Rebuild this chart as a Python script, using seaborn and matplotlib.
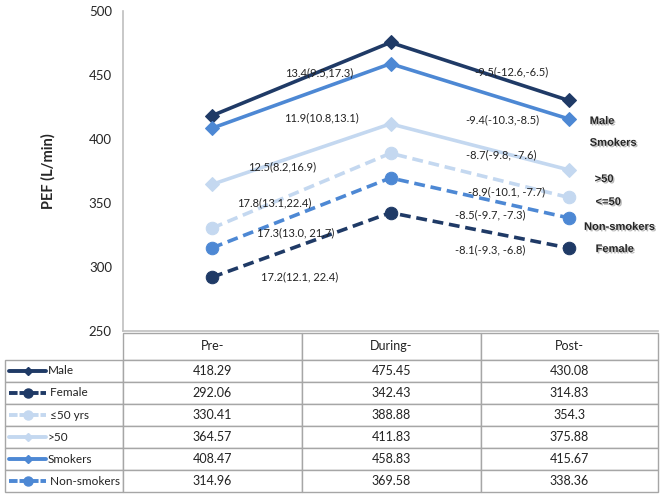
import pandas as pd
import matplotlib
matplotlib.use("Agg")
import matplotlib.pyplot as plt
import matplotlib.patheffects as pe
import seaborn as sns

# Data
phases = ["Pre-", "During-", "Post-"]
groups = ["Male", "Female", "≤50 yrs", ">50", "Smokers", "Non-smokers"]
pre = [418.29, 292.06, 330.41, 364.57, 408.47, 314.96]
during = [475.45, 342.43, 388.88, 411.83, 458.83, 369.58]
post = [430.08, 314.83, 354.3, 375.88, 415.67, 338.36]
post_txt = ["430.08", "314.83", "354.3", "375.88", "415.67", "338.36"]

# change estimates (95% CI) shown on the chart
rise_labels = ["13.4(9.5,17.3)", "17.2(12.1, 22.4)", "17.8(13.1,22.4)",
               "12.5(8.2,16.9)", "11.9(10.8,13.1)", "17.3(13.0, 21.7)"]
fall_labels = ["-9.5(-12.6,-6.5)", "-8.1(-9.3, -6.8)", "-8.9(-10.1, -7.7)",
               "-8.7(-9.8, -7.6)", "-9.4(-10.3,-8.5)", "-8.5(-9.7, -7.3)"]
end_labels = ["Male", "Female", "<=50", ">50", "Smokers", "Non-smokers"]

# text placement (data coords)
rise_pos = [(0.60, 452), (0.49, 292.5), (0.35, 350), (0.39, 378), (0.61, 416.5), (0.47, 326.5)]
fall_pos = [(1.68, 452.3), (1.56, 313.3), (1.65, 358.6), (1.62, 387.5), (1.63, 414.8), (1.56, 340.6)]
end_pos = [(2.117, 414), (2.15, 314), (2.15, 350.8), (2.145, 368.7), (2.117, 397), (2.085, 331.3)]

navy = "#1F3A66"
mid = "#4D88D4"
light = "#C4D8F0"
colors = {"Male": navy, "Female": navy, "≤50 yrs": light, ">50": light,
          "Smokers": mid, "Non-smokers": mid}
mk = {"Male": "D", "Female": "o", "≤50 yrs": "o", ">50": "D", "Smokers": "D", "Non-smokers": "o"}
dash = (3, 1.6)
dsh = {"Male": "", "Female": dash, "≤50 yrs": dash, ">50": "", "Smokers": "", "Non-smokers": dash}

rows = []
for g, a, b, c in zip(groups, pre, during, post):
    for ph, v in zip(phases, [a, b, c]):
        rows.append({"phase": ph, "PEF": v, "group": g})
df = pd.DataFrame(rows)

sns.set_theme(style="white")
plt.rcParams["font.family"] = ["Lato", "DejaVu Sans"]

fig = plt.figure(figsize=(6.65, 4.94), dpi=100)
ax = fig.add_axes([123 / 665, 163 / 494, 535 / 665, 320 / 494])

sns.lineplot(data=df, x="phase", y="PEF", hue="group", style="group",
             palette=colors, markers=mk, dashes=dsh, linewidth=2.6,
             legend=False, ax=ax, sort=False)
for line in ax.lines:
    line.set_markeredgecolor(line.get_color())
    line.set_markersize(9 if line.get_marker() == "o" else 7.5)
    line.set_clip_on(False)

ax.set_xlim(-0.5, 2.5)
ax.set_ylim(250, 500)
ax.set_yticks([250, 300, 350, 400, 450, 500])
ax.set_xticks([])
ax.set_xlabel("")
ax.set_ylabel("PEF (L/min)", fontsize=10.5, fontweight="bold", labelpad=24)
ax.tick_params(axis="y", length=0, pad=8, labelsize=9.5)
for s in ["top", "right"]:
    ax.spines[s].set_visible(False)
for s in ["left", "bottom"]:
    ax.spines[s].set_color("#BFBFBF")
    ax.spines[s].set_linewidth(1.2)

for t, (x, y) in zip(rise_labels, rise_pos):
    ax.text(x, y, t, fontsize=8, ha="center", va="center", color="#222222")
for t, (x, y) in zip(fall_labels, fall_pos):
    ax.text(x, y, t, fontsize=8, ha="center", va="center", color="#222222")
shadow = [pe.withSimplePatchShadow(offset=(1, -1), shadow_rgbFace="#888888", alpha=0.6)]
for t, (x, y) in zip(end_labels, end_pos):
    ax.text(x, y, t, fontsize=8, fontweight="bold", ha="left", va="center",
            family="Liberation Sans", path_effects=shadow, clip_on=False)

# table under the plot
cell_text = [["", *phases]]
for g, a, b, c in zip(groups, pre, during, post_txt):
    lab = g if g in ("Male", ">50", "Smokers") else " " + g
    cell_text.append([lab, f"{a:.2f}", f"{b:.2f}", c])

left = -118 / 535
top = -2 / 320
height = 159 / 320
tbl = ax.table(cellText=cell_text, cellLoc="center",
               colWidths=[118, 179, 179, 177],
               bbox=[left, top - height, 1 - left, height])
tbl.auto_set_font_size(False)
tbl.set_fontsize(9)
hdr_h, row_h = 27, 22
for (r, c), cell in tbl.get_celld().items():
    cell.set_edgecolor("#A6A6A6")
    cell.set_linewidth(1.0)
    cell.set_height(hdr_h if r == 0 else row_h)
    cell.get_text().set_color("#222222")
    if c == 0:
        cell.get_text().set_ha("left")
        cell.get_text().set_fontsize(8.5)
        cell.PAD = 0.36
        if r == 0:
            cell.set_edgecolor("none")

# legend keys inside the label column
kx0, kx1 = -114 / 535, -77 / 535
for i, g in enumerate(groups):
    yc = top - (hdr_h + row_h * i + row_h / 2) / 320
    ax.plot([kx0, (kx0 + kx1) / 2, kx1], [yc, yc, yc], transform=ax.transAxes,
            color=colors[g], lw=2.8, marker=mk[g], markevery=[1],
            markersize=6.5 if mk[g] == "o" else 4, linestyle="-" if dsh[g] == "" else (0, (2.2, 0.5)),
            clip_on=False, solid_capstyle="round")

fig.savefig("out.png", dpi=100)
